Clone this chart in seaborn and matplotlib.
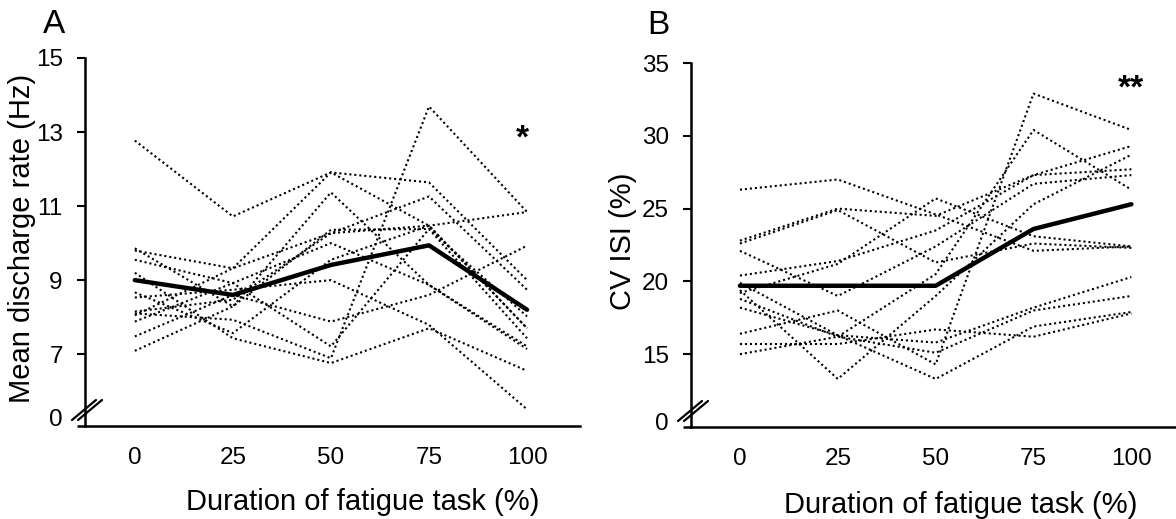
import numpy as np
import pandas as pd
import matplotlib
matplotlib.use("Agg")
import matplotlib.pyplot as plt
import seaborn as sns

# ---------------- data ----------------
time_pts = [0, 25, 50, 75, 100]
x_ticklabels = ["0", "25", "50", "75", "100"]

# Panel A: mean discharge rate (Hz), individual motor units
rate_units = {
    "u1":  [12.77, 10.72, 11.91, 11.64, 9.00],
    "u2":  [8.10, 7.93, 6.89, 13.69, 10.84],
    "u3":  [9.86, 8.29, 11.37, 8.87, 7.14],
    "u4":  [9.80, 9.32, 11.91, 10.47, 7.70],
    "u5":  [8.15, 8.47, 10.27, 11.26, 8.74],
    "u6":  [7.48, 8.60, 7.88, 8.60, 9.93],
    "u7":  [8.53, 8.74, 9.00, 7.79, 5.51],
    "u8":  [9.20, 7.43, 6.76, 7.70, 6.55],
    "u9":  [7.09, 8.29, 10.36, 10.38, 7.43],
    "u10": [9.55, 8.92, 7.21, 10.38, 8.02],
    "u11": [7.88, 8.92, 10.00, 8.87, 7.21],
    "u12": [8.67, 7.57, 9.55, 10.47, 7.70],
    "u13": [8.05, 9.32, 10.27, 10.47, 10.84],
}
rate_mean = [9.00, 8.60, 9.41, 9.94, 8.20]
rate_yticks = [7, 9, 11, 13, 15]

# Panel B: CV ISI (%), individual motor units
cv_units = {
    "u1":  [26.3, 27.0, 24.6, 22.1, 22.4],
    "u2":  [22.8, 25.0, 24.5, 27.3, 29.3],
    "u3":  [22.6, 24.9, 21.3, 22.6, 22.3],
    "u4":  [22.1, 19.0, 22.4, 26.7, 27.3],
    "u5":  [20.4, 21.4, 23.5, 27.3, 27.7],
    "u6":  [19.2, 21.2, 25.7, 23.1, 22.4],
    "u7":  [18.8, 16.2, 20.5, 30.4, 26.3],
    "u8":  [18.2, 16.3, 15.8, 18.2, 20.3],
    "u9":  [16.4, 18.0, 14.3, 32.9, 30.4],
    "u10": [15.7, 15.7, 16.7, 16.2, 17.8],
    "u11": [15.0, 16.2, 15.1, 18.0, 19.0],
    "u12": [19.4, 13.3, 19.0, 25.3, 28.7],
    "u13": [19.9, 16.3, 13.3, 16.9, 17.9],
}
cv_mean = [19.7, 19.7, 19.7, 23.6, 25.3]
cv_yticks = [15, 20, 25, 30, 35]


def long_df(units):
    rows = []
    for name, vals in units.items():
        for t, v in zip(time_pts, vals):
            rows.append({"unit": name, "time": t, "value": v})
    return pd.DataFrame(rows)


# ---------------- style ----------------
sns.set_style("ticks")
plt.rcParams["font.family"] = ["Liberation Sans", "DejaVu Sans"]
plt.rcParams["text.color"] = "black"
plt.rcParams["axes.labelcolor"] = "black"
plt.rcParams["xtick.color"] = "black"
plt.rcParams["ytick.color"] = "black"

fig = plt.figure(figsize=(11.76, 5.19), dpi=100)
W, H = 1176, 519

axA = fig.add_axes([85 / W, 1 - 426 / H, 495 / W, 368 / H])
axB = fig.add_axes([691 / W, 1 - 427 / H, 485 / W, 364 / H])


def draw(ax, units, mean, xlim, ylim, zero_pos, yticks, ylabel, ylab_xy, xlab_xy, star, star_xy):
    df = long_df(units)
    sns.lineplot(data=df, x="time", y="value", units="unit", estimator=None,
                 color="black", linewidth=1.5, linestyle=(0, (1, 1.4)), ax=ax,
                 legend=False)
    mdf = pd.DataFrame({"time": time_pts, "value": mean})
    sns.lineplot(data=mdf, x="time", y="value", color="black", linewidth=3.2,
                 ax=ax, legend=False)

    ax.set_xlim(*xlim)
    ax.set_ylim(*ylim)
    ax.set_xticks(time_pts)
    ax.set_xticklabels(x_ticklabels)
    ax.set_yticks([zero_pos] + yticks)
    ax.set_yticklabels(["0"] + [str(v) for v in yticks])
    ax.tick_params(axis="x", length=0, labelsize=17.5, pad=15, colors="black")
    ax.tick_params(axis="y", length=6, width=1.5, labelsize=17.5, pad=10,
                   direction="out", colors="black")
    ax.yaxis.get_major_ticks()[0].tick1line.set_visible(False)

    for s in ["top", "right"]:
        ax.spines[s].set_visible(False)
    for s in ["left", "bottom"]:
        ax.spines[s].set_linewidth(1.8)
        ax.spines[s].set_color("black")

    ax.set_xlabel("Duration of fatigue task (%)", fontsize=21, color="black")
    ax.set_ylabel(ylabel, fontsize=21, color="black")
    ax.xaxis.set_label_coords(*xlab_xy)
    ax.xaxis.label.set_va("center")
    ax.yaxis.set_label_coords(*ylab_xy)
    ax.yaxis.label.set_va("center")

    # axis extension left of the y spine
    bbox = ax.get_position()
    pw = bbox.width * W
    ph = bbox.height * H
    ax.plot([-8 / pw, 0], [0, 0], transform=ax.transAxes, color="black",
            lw=1.8, clip_on=False, solid_capstyle="butt")
    # axis break marks
    for off in (0, 6):
        ax.plot([(-13 + off) / pw, (11 + off) / pw], [6 / ph, 26 / ph],
                transform=ax.transAxes, color="black", lw=1.6, clip_on=False)

    ax.text(star_xy[0], star_xy[1], star, fontsize=24, ha="center",
            va="center", color="black", fontweight="bold")


draw(axA, rate_units, rate_mean, (-12.7, 113.5), (5.06, 15.0), 5.28, rate_yticks,
     "Mean discharge rate (Hz)", (-0.127, 0.511), (0.56, -0.207), "*",
     (98.8, 12.8))
draw(axB, cv_units, cv_mean, (-12.5, 111.4), (10.0, 35.0), 10.41, cv_yticks,
     "CV ISI (%)", (-0.140, 0.511), (0.557, -0.214), "**", (99.9, 33.2))

fig.text(54 / W, 1 - 24.5 / H, "A", fontsize=24, ha="center", va="center")
fig.text(658 / W, 1 - 26 / H, "B", fontsize=24, ha="center", va="center")

fig.savefig("out.png", dpi=100)
